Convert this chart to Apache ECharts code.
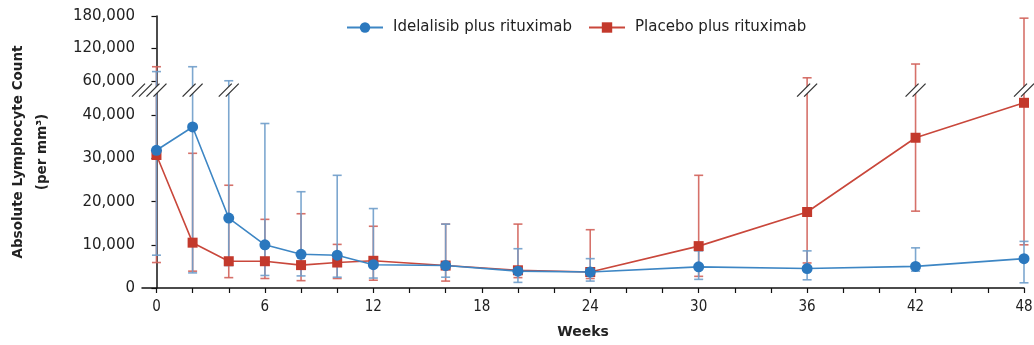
<!DOCTYPE html>
<html>
<head>
<meta charset="utf-8">
<script src="https://cdn.jsdelivr.net/npm/echarts@6/dist/echarts.min.js"></script>
<style>
html,body{margin:0;padding:0;background:#fff;}
#chart{width:1034px;height:345px;}
</style>
</head>
<body>
<div id="chart"></div>
<script>
// ---- data ----
const weeks = [0, 2, 4, 6, 8, 10, 12, 16, 20, 24, 30, 36, 42, 48];

const idelMean = [31900, 37300, 16200, 10000, 7800, 7600, 5400, 5200, 3900, 3700, 4900, 4500, 5000, 6800];
const idelLow  = [7600, 3500, 5200, 2900, 2800, 2500, 2300, 2500, 1300, 1600, 2000, 1900, 3900, 1200];
const idelHigh = [77000, 86000, 60000, 38100, 22300, 26100, 18400, 14800, 9100, 6800, 8600, 8600, 9300, 10800];

const placMean = [30800, 10500, 6200, 6200, 5300, 5900, 6300, 5200, 4100, 3700, 9700, 17600, 34800, 42900];
const placLow  = [5900, 3900, 2400, 2200, 1700, 2200, 1800, 1600, 2400, 2200, 2700, 5800, 17800, 10000];
const placHigh = [86000, 31200, 23800, 15900, 17200, 10100, 14300, 14800, 14800, 13500, 26100, 65500, 91000, 176000];

const yTickValues = [0, 10000, 20000, 30000, 40000, 60000, 120000, 180000];
const xTickValues = [0, 2, 4, 6, 8, 10, 12, 14, 16, 18, 20, 22, 24, 26, 28, 30, 32, 34, 36, 38, 40, 42, 44, 46, 48];
const xLabelValues = [0, 6, 12, 18, 24, 30, 36, 42, 48];

const seriesNames = ['Idelalisib plus rituximab', 'Placebo plus rituximab'];

// ---- broken y scale: linear up to the break, compressed above it ----
const BREAK_START = 46000, BREAK_END = 60000;
function toDisp(v) {
  if (v <= BREAK_START) return v;
  if (v < BREAK_END) return BREAK_START + (v - BREAK_START) * (2000 / (BREAK_END - BREAK_START));
  return 48000 + (v - BREAK_END) * 0.125;
}
const BREAK_MARK_Y = 45840;
const yCustom = yTickValues.map(toDisp);

const BLUE = '#2b78be', BLUE_LINE = '#3d86c4', BLUE_ERR = '#6f9dca';
const RED = '#c3392c', RED_LINE = '#c9473b', RED_ERR = '#d2625a';

function errData(lo, hi) {
  return weeks.map((w, i) => [w, toDisp(lo[i]), toDisp(hi[i])]);
}
function errSeries(lo, hi, color, z) {
  return {
    type: 'custom',
    z: z,
    silent: true,
    clip: false,
    data: errData(lo, hi),
    renderItem: function (params, api) {
      const x = api.value(0);
      const a = api.coord([x, api.value(1)]);
      const b = api.coord([x, api.value(2)]);
      const cw = 4.5;
      const st = { stroke: color, lineWidth: 1.6, opacity: 0.9 };
      return {
        type: 'group',
        children: [
          { type: 'line', shape: { x1: a[0], y1: a[1], x2: b[0], y2: b[1] }, style: st },
          { type: 'line', shape: { x1: a[0] - cw, y1: a[1], x2: a[0] + cw, y2: a[1] }, style: st },
          { type: 'line', shape: { x1: b[0] - cw, y1: b[1], x2: b[0] + cw, y2: b[1] }, style: st }
        ]
      };
    }
  };
}

// break marks: on the y axis line and on every error bar crossing the break
const X_MIN = -0.8;
const breakXs = [X_MIN].concat(weeks.filter((w, i) => idelHigh[i] > BREAK_START || placHigh[i] > BREAK_START));

const chart = echarts.init(document.getElementById('chart'));
chart.setOption({
  animation: false,
  backgroundColor: '#fff',
  grid: { left: 142, right: 10, top: 16, bottom: 57, outerBoundsMode: 'none', containLabel: false },
  legend: {
    top: 15,
    left: 341,
    itemWidth: 36,
    itemHeight: 13,
    itemGap: 16,
    data: seriesNames,
    textStyle: { fontFamily: 'DejaVu Sans', fontSize: 15, color: '#222', padding: [0, 0, 0, 5] }
  },
  xAxis: {
    type: 'value',
    min: X_MIN,
    max: 48,
    name: 'Weeks',
    nameLocation: 'middle',
    nameGap: 37,
    nameTextStyle: { fontFamily: 'DejaVu Sans', fontWeight: 'bold', fontSize: 14, color: '#222' },
    axisLine: { show: true, onZero: false, lineStyle: { color: '#111', width: 1.5 } },
    axisTick: { show: true, customValues: xTickValues, length: 5, lineStyle: { color: '#111', width: 1.2 } },
    axisLabel: {
      customValues: xLabelValues,
      margin: 12,
      fontFamily: '"Liberation Sans Narrow", "DejaVu Sans Condensed", sans-serif',
      fontSize: 15,
      color: '#222'
    },
    splitLine: { show: false }
  },
  yAxis: {
    type: 'value',
    min: 0,
    max: toDisp(180000),
    name: 'Absolute Lymphocyte Count\n(per mm³)',
    nameLocation: 'middle',
    nameRotate: 90,
    nameGap: 88,
    nameTextStyle: { fontFamily: 'DejaVu Sans', fontWeight: 'bold', fontSize: 13.5, color: '#222', lineHeight: 24 },
    axisLine: { show: true, lineStyle: { color: '#111', width: 1.5 } },
    axisTick: { show: true, customValues: yCustom, length: 5, lineStyle: { color: '#111', width: 1.2 } },
    axisLabel: {
      customValues: yCustom,
      margin: 7,
      fontFamily: 'DejaVu Sans',
      fontSize: 15,
      color: '#222',
      formatter: function (v) {
        let best = 0, bd = Infinity;
        yCustom.forEach((c, i) => { const d = Math.abs(c - v); if (d < bd) { bd = d; best = i; } });
        return yTickValues[best].toLocaleString('en-US');
      }
    },
    splitLine: { show: false }
  },
  series: [
    errSeries(placLow, placHigh, RED_ERR, 2),
    errSeries(idelLow, idelHigh, BLUE_ERR, 3),
    {
      type: 'custom',
      z: 6,
      silent: true,
      clip: false,
      data: breakXs.map(x => [x, BREAK_MARK_Y]),
      renderItem: function (params, api) {
        const p = api.coord([api.value(0), api.value(1)]);
        const cx = p[0], cy = p[1];
        const h = 6.5, off = 3.5;
        return {
          type: 'group',
          children: [
            { type: 'polygon', shape: { points: [[cx - off - h, cy + h], [cx - off + h, cy - h], [cx + off + h, cy - h], [cx + off - h, cy + h]] }, style: { fill: '#fff' } },
            { type: 'line', shape: { x1: cx - off - h, y1: cy + h, x2: cx - off + h, y2: cy - h }, style: { stroke: '#333', lineWidth: 1.3 } },
            { type: 'line', shape: { x1: cx + off - h, y1: cy + h, x2: cx + off + h, y2: cy - h }, style: { stroke: '#333', lineWidth: 1.3 } }
          ]
        };
      }
    },
    {
      name: seriesNames[1],
      type: 'line',
      z: 4,
      data: weeks.map((w, i) => [w, toDisp(placMean[i])]),
      symbol: 'rect',
      symbolSize: 10,
      itemStyle: { color: RED },
      lineStyle: { color: RED_LINE, width: 1.6 }
    },
    {
      name: seriesNames[0],
      type: 'line',
      z: 5,
      data: weeks.map((w, i) => [w, toDisp(idelMean[i])]),
      symbol: 'circle',
      symbolSize: 11,
      itemStyle: { color: BLUE },
      lineStyle: { color: BLUE_LINE, width: 1.6 }
    }
  ]
});
</script>
</body>
</html>
